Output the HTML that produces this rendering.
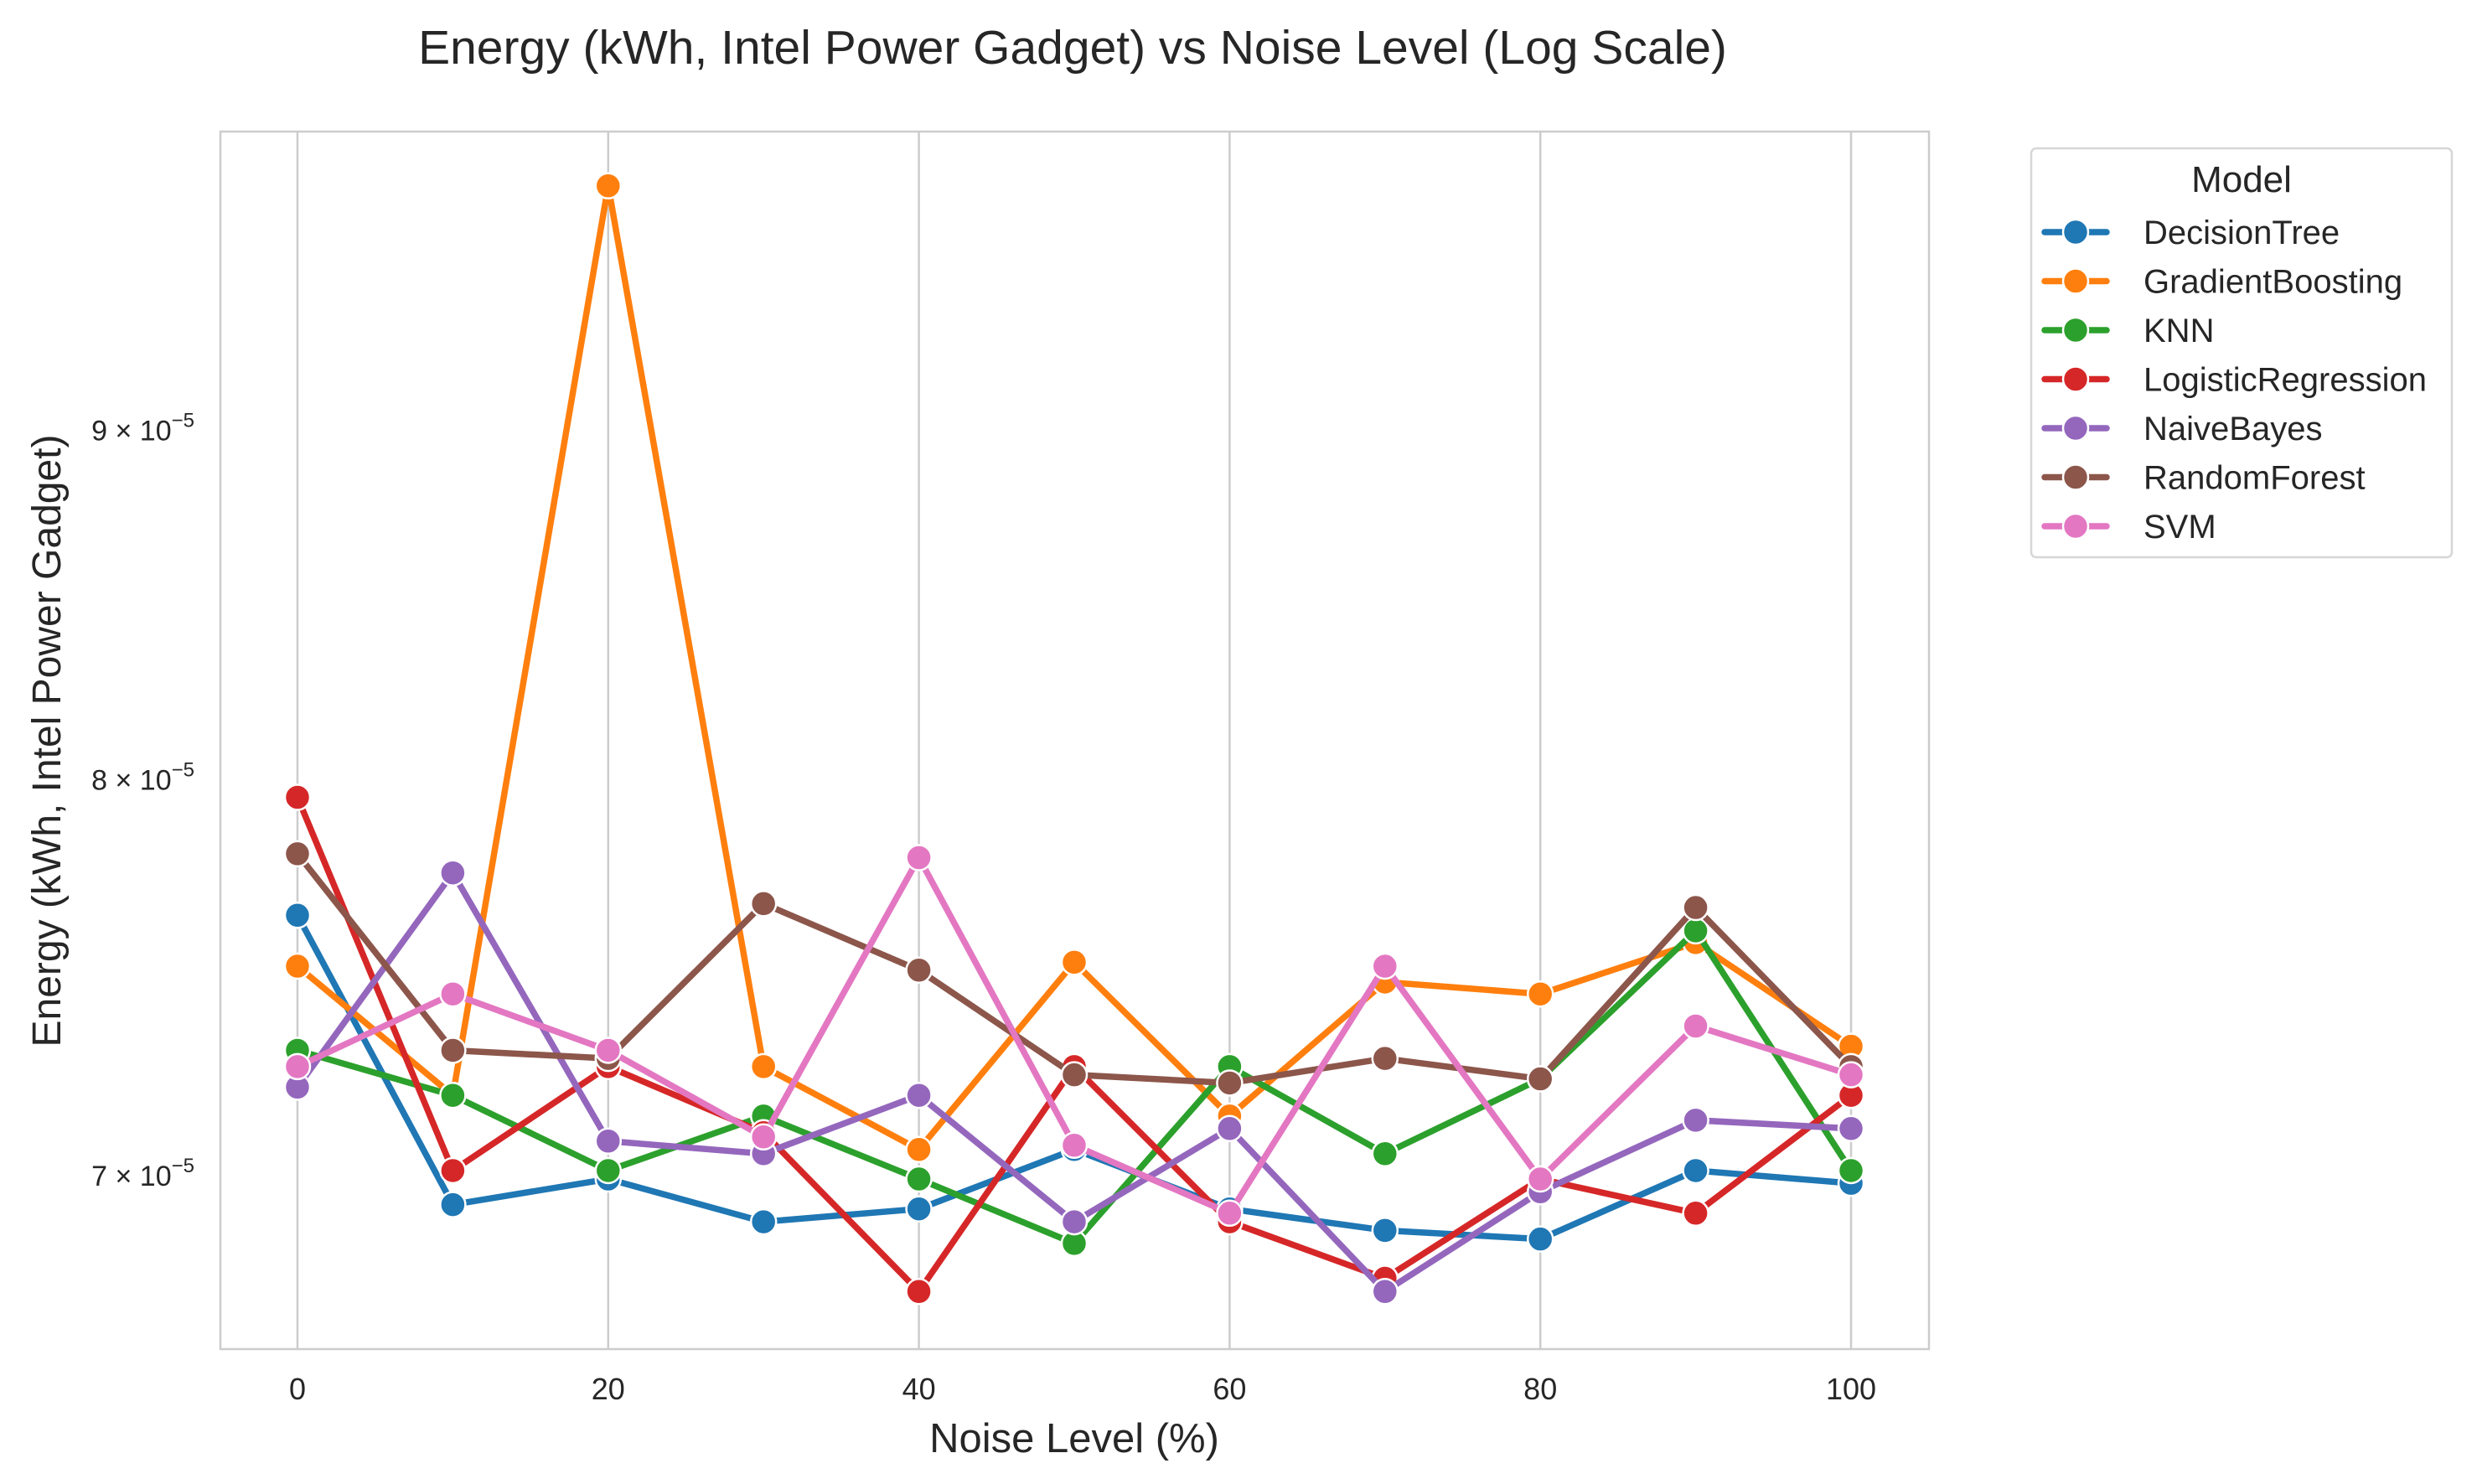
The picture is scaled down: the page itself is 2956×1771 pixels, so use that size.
<!DOCTYPE html>
<html><head><meta charset="utf-8"><style>
html,body{margin:0;padding:0;background:#fff;}
svg{display:block;font-family:"Liberation Sans",sans-serif;}
</style></head><body>
<svg id="chart" width="2956" height="1771" viewBox="0 0 2956 1771" xmlns="http://www.w3.org/2000/svg">
<rect width="2956" height="1771" fill="#fff"/>
<text x="1280" y="76" text-anchor="middle" font-size="57" fill="#262626">Energy (kWh, Intel Power Gadget) vs Noise Level (Log Scale)</text>
<g id="grid"></g>
<rect x="263" y="157" width="2039" height="1453" fill="none" stroke="#cccccc" stroke-width="2.5"/>
<g id="series"></g>
<g id="ticks"></g>
<text x="1282" y="1733" text-anchor="middle" font-size="49" fill="#262626">Noise Level (%)</text>
<text transform="translate(72,884) rotate(-90)" text-anchor="middle" font-size="48" fill="#262626">Energy (kWh, Intel Power Gadget)</text>
<g>
<rect x="2424" y="177" width="502" height="488" rx="6" fill="#fff" stroke="#d6d6d6" stroke-width="2.5"/>
<text x="2675" y="229" text-anchor="middle" font-size="44" fill="#262626">Model</text>
<g id="legend-entries"></g>
</g>
</svg>
<script>
const noiseLevels = [0,10,20,30,40,50,60,70,80,90,100];
const seriesNames = ["DecisionTree","GradientBoosting","KNN","LogisticRegression","NaiveBayes","RandomForest","SVM"];
const seriesColors = ["#1f77b4","#ff7f0e","#2ca02c","#d62728","#9467bd","#8c564b","#e377c2"];
const decisionTree = [7.64,6.93,6.99,6.89,6.92,7.06,6.92,6.87,6.85,7.01,6.98];
const gradientBoosting = [7.51,7.19,9.77,7.26,7.06,7.52,7.14,7.47,7.44,7.57,7.31];
const knn = [7.30,7.19,7.01,7.14,6.99,6.84,7.26,7.05,7.23,7.60,7.01];
const logisticRegression = [7.95,7.01,7.26,7.10,6.73,7.26,6.89,6.76,6.99,6.91,7.19];
const naiveBayes = [7.21,7.75,7.08,7.05,7.19,6.89,7.11,6.73,6.96,7.13,7.11];
const randomForest = [7.80,7.30,7.28,7.67,7.50,7.24,7.22,7.28,7.23,7.66,7.26];
const svm = [7.26,7.44,7.30,7.09,7.79,7.07,6.91,7.51,6.99,7.36,7.24];
const xTickValues = [0,20,40,60,80,100];
const yTickValues = [7,8,9];

const allSeries = [decisionTree,gradientBoosting,knn,logisticRegression,naiveBayes,randomForest,svm];
const NS = "http://www.w3.org/2000/svg";
function xScale(v){ return 355 + (v-0)*(2209-355)/100; }
function yScale(v){ return 1402 - 3540*Math.log(v/7); }
function mk(tag, attrs, parent){ const e=document.createElementNS(NS,tag); for(const k in attrs) e.setAttribute(k,attrs[k]); parent.appendChild(e); return e; }

const grid=document.getElementById('grid');
const ticks=document.getElementById('ticks');
xTickValues.forEach(v=>{
  const l=mk('line',{x1:xScale(v),x2:xScale(v),y1:157,y2:1610,stroke:'#cccccc','stroke-width':2.5},grid);
  
  
  const t=mk('text',{x:xScale(v),y:1670,'text-anchor':'middle','font-size':36,fill:'#262626'},ticks);
  t.textContent=String(v);
  
  
});
yTickValues.forEach(v=>{
  const t=mk('text',{x:232,y:yScale(v)+13,'text-anchor':'end','font-size':34,fill:'#262626'},ticks);
  
  
  const a=document.createElementNS(NS,'tspan'); a.textContent=v+' \u00d7 10'; t.appendChild(a);
  const b=document.createElementNS(NS,'tspan'); b.setAttribute('dy','-16'); b.setAttribute('font-size','24'); b.textContent='\u22125'; t.appendChild(b);
});

const sg=document.getElementById('series');
allSeries.forEach((vals,i)=>{
  const g=mk('g',{},sg);
  
  
  const pts=vals.map((v,j)=>xScale(noiseLevels[j])+','+yScale(v)).join(' ');
  const pl=mk('polyline',{points:pts,fill:'none',stroke:seriesColors[i],'stroke-width':7.5,'stroke-linejoin':'round','stroke-linecap':'round'},g);
  
  
  vals.forEach((v,j)=>{
    const c=mk('circle',{cx:xScale(noiseLevels[j]),cy:yScale(v),r:15,fill:seriesColors[i],stroke:'#fff','stroke-width':2.5},g);
    
    
  });
});

const le=document.getElementById('legend-entries');
seriesNames.forEach((n,i)=>{
  const y=277+58.5*i;
  const g=mk('g',{},le);
  
  
  mk('line',{x1:2440,x2:2514,y1:y,y2:y,stroke:seriesColors[i],'stroke-width':7.5,'stroke-linecap':'round'},g);
  mk('circle',{cx:2477,cy:y,r:15,fill:seriesColors[i],stroke:'#fff','stroke-width':2.5},g);
  const t=mk('text',{x:2558,y:y+14,'font-size':40,fill:'#262626'},g);
  t.textContent=n;
});
</script>
</body></html>
